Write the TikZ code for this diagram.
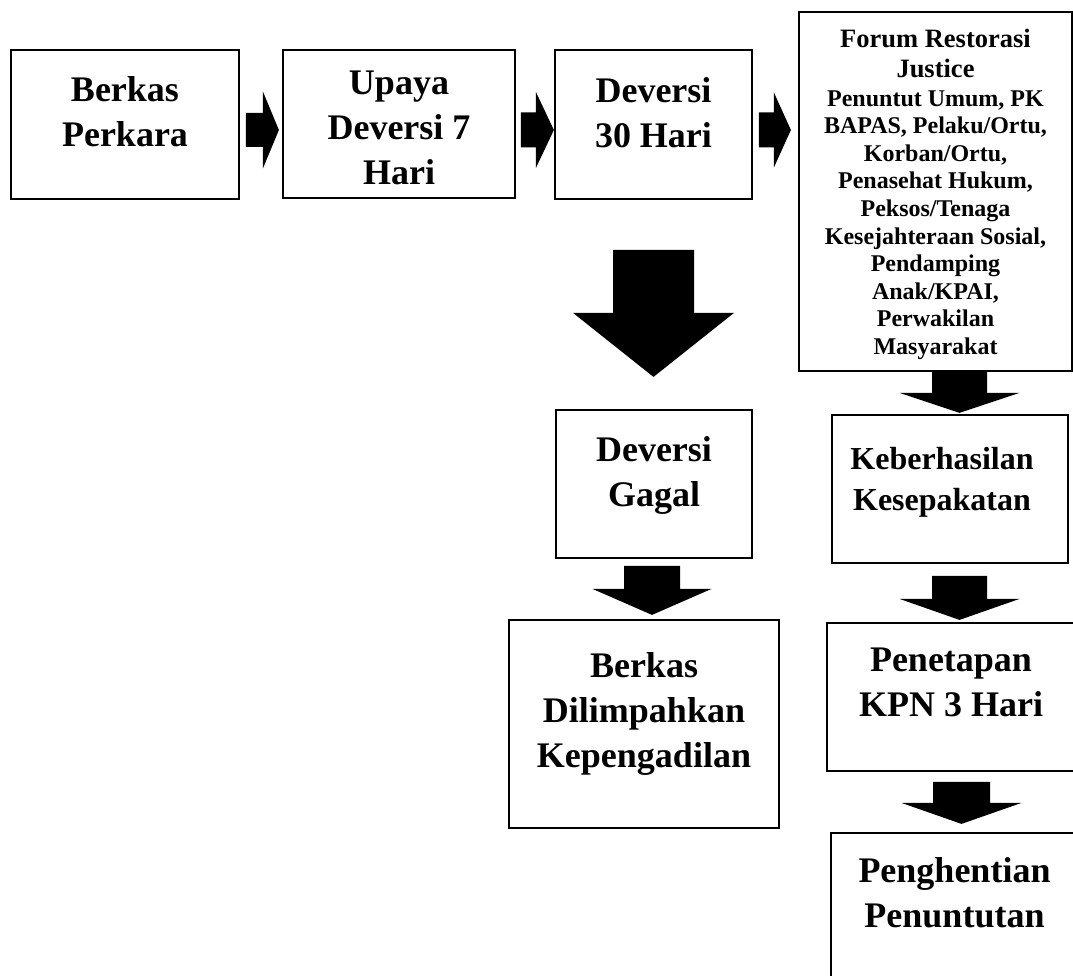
\documentclass[tikz,border=0pt]{standalone}
\usepackage{fontspec}
\setmainfont{Liberation Serif}
\usetikzlibrary{positioning,calc}

\begin{document}
\begin{tikzpicture}[
    x=1pt, y=-1pt,
    box/.style={rectangle, draw=black, line width=1.8pt, inner sep=0pt},
    mtext/.style={anchor=base, align=flush center, inner sep=0pt, text width=#1, font=\fontsize{36}{45}\selectfont\bfseries},
    mtext/.default=240pt,
    ktext/.style={anchor=base, align=flush center, inner sep=0pt, text width=230pt, font=\fontsize{32}{41}\selectfont\bfseries},
    ftext/.style={anchor=base, align=flush center, inner sep=0pt, text width=270pt, font=\fontsize{24}{27.6}\selectfont\bfseries},
    pics/rarrow/.style n args={4}{code={
        \fill (0,-#1) -- (#3,-#1) -- (#3,-#2) -- (#3+#4,0) -- (#3,#2) -- (#3,#1) -- (0,#1) -- cycle;}},
    pics/darrow/.style n args={4}{code={
        \fill (-#1,0) -- (-#1,#3) -- (-#2,#3) -- (0,#3+#4) -- (#2,#3) -- (#1,#3) -- (#1,0) -- cycle;}}
]
    \useasboundingbox (0,0) rectangle (1073,976);
    \clip (0,0) rectangle (1073,976);

    % top row
    \node [box, minimum width=228pt, minimum height=149pt] (berkas) at (125,124.5) {};
    \node [box, minimum width=232pt, minimum height=148pt] (upaya) at (399,124) {};
    \node [box, minimum width=197pt, minimum height=149pt] (dev30) at (653.5,124.5) {};
    \node [box, minimum width=273pt, minimum height=359pt] (forum) at (935.5,191.5) {};

    \node [mtext] (berkas-t) at ($(berkas.north)+(0,52)$) {Berkas\\Perkara};
    \node [mtext] (upaya-t) at ($(upaya.north)+(0,45)$) {Upaya\\Deversi 7\\Hari};
    \node [mtext] (dev30-t) at ($(dev30.north)+(0,53)$) {Deversi\\30 Hari};
    \node [ftext] (forum-t) at ($(forum.north)+(0,36)$) {\fontsize{26.5}{27.6}\selectfont Forum Restorasi\\[2.4pt]
        Justice\\[1.4pt]\fontsize{24}{27.6}\selectfont Penuntut Umum, PK\\BAPAS, Pelaku/Ortu,\\Korban/Ortu,\\
        Penasehat Hukum,\\Peksos/Tenaga\\Kesejahteraan Sosial,\\Pendamping\\Anak/KPAI,\\Perwakilan\\Masyarakat};

    % lower boxes
    \node [box, minimum width=196pt, minimum height=148pt] (gagal) at (654,484) {};
    \node [box, minimum width=236pt, minimum height=148pt] (hasil) at (950,489) {};
    \node [box, minimum width=270pt, minimum height=208pt] (limpah) at (644,724) {};
    \node [box, minimum width=248pt, minimum height=148pt] (kpn) at (951,697) {};
    \node [box, minimum width=247pt, minimum height=187pt] (henti) at (954.5,926.5) {};

    \node [mtext] (gagal-t) at ($(gagal.north)+(0,52)$) {Deversi\\Gagal};
    \node [ktext] (hasil-t) at ($(hasil.north)+(-8,55)$) {Keberhasilan\\Kesepakatan};
    \node [mtext] (limpah-t) at ($(limpah.north)+(0,58)$) {Berkas\\Dilimpahkan\\Kepengadilan};
    \node [mtext] (kpn-t) at ($(kpn.north)+(0,49)$) {Penetapan\\KPN 3 Hari};
    \node [mtext] (henti-t) at ($(henti.north)+(0,50)$) {Penghentian\\Penuntutan};

    % block arrows
    \pic at ($(berkas.east)+(6,5.5)$) {rarrow={17}{38.5}{17}{16}};
    \pic at ($(upaya.east)+(5,6)$) {rarrow={17.5}{38}{15}{18}};
    \pic at ($(dev30.east)+(6,5.5)$) {rarrow={17.5}{37.5}{15}{17}};
    \pic at ($(dev30.south)+(0,50)$) {darrow={40.5}{80.5}{63}{64}};
    \pic at ($(forum.south)+(24,0)$) {darrow={27.5}{60}{21}{20}};
    \pic at ($(gagal.south)+(-2,7)$) {darrow={28}{59.5}{23}{26}};
    \pic at ($(hasil.south)+(9.5,12)$) {darrow={27.5}{60}{23}{21}};
    \pic at ($(kpn.south)+(10.5,10)$) {darrow={28.5}{60}{21}{21}};
\end{tikzpicture}
\end{document}
